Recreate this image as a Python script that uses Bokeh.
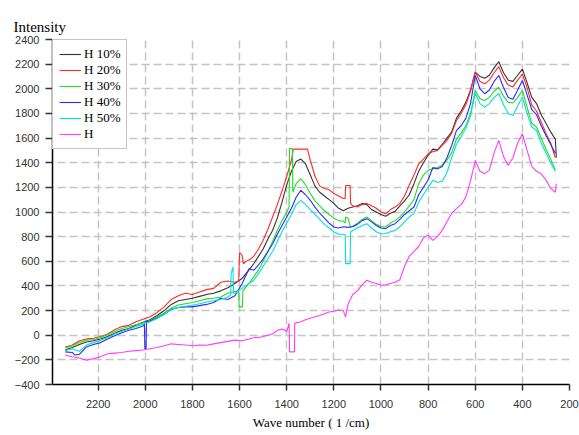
from bokeh.plotting import figure
from bokeh.models import Range1d, FixedTicker, Legend, LegendItem
from bokeh.embed import file_html
from bokeh.resources import INLINE

# common wave-number grid (1/cm)
wave = [2340, 2310, 2280, 2250, 2220, 2190, 2160, 2130, 2100, 2070, 2040, 2010, 1980, 1950,
        1920, 1890, 1860, 1830, 1800, 1770, 1740, 1710, 1680, 1650, 1620, 1590, 1560,
        1540, 1520, 1500, 1480, 1460, 1440, 1420, 1400, 1380, 1360, 1340, 1320, 1300, 1280,
        1260, 1240, 1220, 1200, 1180, 1160, 1140, 1120, 1100, 1080, 1060, 1040, 1020, 1000,
        980, 960, 940, 920, 900, 880, 860, 840, 820, 800, 780, 760, 740, 720, 700, 680,
        660, 640, 620, 600, 580, 560, 540, 520, 500, 480, 460, 440, 420, 400, 380, 360,
        340, 320, 300, 280, 260]

h10 = [-120, -100, -75, -55, -45, -30, -10, 15, 40, 55, 80, 105, 125, 160,
       200, 250, 280, 290, 300, 315, 330, 340, 360, 385, 420, 460, 530,
       580, 640, 700, 780, 850, 950, 1080, 1220, 1330, 1410, 1430, 1390, 1300, 1210,
       1160, 1130, 1100, 1070, 1030, 1010, 1030, 1040, 1050, 1070, 1060, 1020, 1000, 980,
       965, 990, 1005, 1050, 1090, 1140, 1230, 1330, 1400, 1460, 1510, 1505, 1550, 1600, 1650, 1760,
       1820, 1890, 1990, 2135, 2100, 2085, 2110, 2170, 2220, 2130, 2070, 2060, 2110, 2160, 2050, 1930,
       1880, 1790, 1720, 1650, 1590]
h10_ex_x = [256]
h10_ex_y = [1440]

h20 = [-95, -80, -45, -30, -25, -10, 10, 45, 70, 80, 110, 130, 150, 185,
       230, 290, 320, 340, 330, 350, 370, 380, 430, 440, 430, 650, 610,
       640, 700, 770, 860, 960, 1060, 1170, 1290, 1420, 1510, 1510, 1510, 1420, 1290,
       1210, 1190, 1180, 1150, 1130, 1110, 1215, 1050, 1040, 1060, 1070, 1050, 1030, 1000,
       985, 1020, 1040, 1070, 1130, 1220, 1300, 1390, 1430, 1470, 1490, 1500, 1540, 1580, 1640, 1740,
       1800, 1870, 1980, 2135, 2060, 2040, 2070, 2130, 2180, 2090, 2030, 2015, 2070, 2120, 2010, 1870,
       1820, 1730, 1640, 1560, 1440]
h20_ex_x = [1604, 1600, 1584, 1572, 1372, 1312, 1152, 1150, 1131, 1129]
h20_ex_y = [440, 670, 580, 600, 1510, 1510, 1110, 1215, 1215, 1070]

h30 = [-105, -85, -60, -40, -35, -20, 5, 30, 55, 70, 85, 100, 120, 150,
       180, 220, 245, 255, 265, 280, 295, 300, 310, 340, 355, 230, 420,
       473, 530, 600, 680, 760, 850, 930, 1000, 1514, 1230, 1270, 1220, 1150, 1090,
       1050, 1010, 980, 950, 930, 925, 950, 885, 910, 940, 960, 930, 900, 880,
       880, 910, 930, 960, 1000, 1050, 1100, 1230, 1300, 1338, 1350, 1360, 1380, 1420, 1480, 1590,
       1640, 1700, 1800, 1986, 1920, 1905, 1930, 1980, 2013, 1940, 1890, 1885, 1930, 1986, 1850, 1720,
       1690, 1600, 1510, 1430, 1340]
h30_ex_x = [1604, 1602, 1588, 1586, 1390, 1388, 1376, 1374, 1152, 1150, 1130]
h30_ex_y = [360, 230, 230, 360, 1040, 1514, 1514, 1160, 910, 960, 880]

h40 = [-135, -140, -155, -95, -75, -60, -30, -5, 20, 40, 55, 75, 115, 140,
       170, 210, 225, 230, 230, 240, 250, 265, 300, 290, 320, 415, 540,
       527, 570, 620, 680, 740, 820, 890, 960, 1030, 1120, 1176, 1140, 1095, 1040,
       990, 950, 910, 878, 870, 880, 875, 880, 900, 930, 946, 920, 890, 870,
       865, 890, 905, 940, 980, 1010, 1041, 1140, 1200, 1260, 1360, 1350, 1370, 1440, 1540, 1660,
       1700, 1760, 1880, 2108, 2000, 1960, 1990, 2060, 2108, 2010, 1930, 1915, 1990, 2067, 1950, 1830,
       1790, 1700, 1620, 1550, 1475]
h40_ex_x = [2300, 2004, 2002, 1997, 1995]
h40_ex_y = [-160, 90, -110, -110, 110]

h50 = [-125, -110, -130, -80, -60, -40, -20, 10, 30, 50, 70, 90, 110, 135,
       170, 210, 225, 235, 243, 255, 270, 280, 290, 310, 340, 380, 420,
       446, 500, 560, 620, 680, 760, 840, 910, 980, 1060, 1095, 1060, 1020, 980,
       940, 900, 870, 840, 820, 820, 581, 850, 870, 890, 905, 870, 840, 824,
       825, 840, 851, 880, 920, 960, 987, 1080, 1140, 1200, 1257, 1240, 1250, 1320, 1440, 1550,
       1610, 1680, 1780, 1962, 1880, 1851, 1880, 1930, 1962, 1870, 1800, 1784, 1860, 1932, 1800, 1690,
       1662, 1560, 1480, 1400, 1330]
h50_ex_x = [1638, 1636, 1628, 1626, 1152, 1150, 1131, 1129]
h50_ex_y = [325, 500, 554, 340, 815, 581, 581, 840]

h0 = [-162, -175, -185, -203, -190, -175, -150, -145, -140, -130, -125, -120, -110, -100,
      -85, -70, -75, -80, -85, -80, -81, -70, -60, -50, -40, -45, -30,
      -20, -18, -10, 0, 10, 40, 50, 30, -135, 100, 110, 125, 138, 150,
      160, 175, 189, 195, 205, 200, 250, 330, 360, 410, 446, 430, 420, 405,
      410, 420, 430, 450, 560, 640, 680, 720, 790, 811, 770, 800, 851, 920, 990, 1027,
      1060, 1121, 1250, 1419, 1330, 1311, 1340, 1480, 1581, 1450, 1378, 1440, 1560, 1635, 1500, 1370,
      1330, 1310, 1260, 1192, 1160]
h0_ex_x = [1390, 1388, 1367, 1366, 1150, 256]
h0_ex_y = [97, -135, -135, 97, 148, 1230]

names = ["H 10%", "H 20%", "H 30%", "H 40%", "H 50%", "H"]
colors = ["#333333", "#ff2a2a", "#22dd22", "#2a2aff", "#00e0e0", "#ff3cff"]
series = [(h10, h10_ex_x, h10_ex_y), (h20, h20_ex_x, h20_ex_y), (h30, h30_ex_x, h30_ex_y),
          (h40, h40_ex_x, h40_ex_y), (h50, h50_ex_x, h50_ex_y), (h0, h0_ex_x, h0_ex_y)]

x_ticks = [200, 400, 600, 800, 1000, 1200, 1400, 1600, 1800, 2000, 2200]
y_ticks = [-400, -200, 0, 200, 400, 600, 800, 1000, 1200, 1400, 1600, 1800, 2000, 2200, 2400]

p = figure(width=579, height=435, output_backend="svg", toolbar_location=None,
           x_range=Range1d(2394, 200), y_range=Range1d(-400, 2400),
           min_border_left=52, min_border_right=10, min_border_top=39, min_border_bottom=51)

p.title.text = "Intensity"
p.title.text_font = "Liberation Serif"
p.title.text_font_size = "15px"
p.title.text_font_style = "normal"
p.title.text_color = "#000000"
p.title.align = "left"
p.title.offset = -39
p.title.standoff = 10

p.outline_line_color = None
p.background_fill_color = "white"
p.border_fill_color = "white"

for g in (p.xgrid, p.ygrid):
    g.grid_line_color = "#c4c4c4"
    g.grid_line_dash = "8 4"
    g.grid_line_width = 1.5
p.xgrid.ticker = FixedTicker(ticks=x_ticks)
p.ygrid.ticker = FixedTicker(ticks=y_ticks)

p.xaxis.ticker = FixedTicker(ticks=x_ticks)
p.yaxis.ticker = FixedTicker(ticks=y_ticks)
for ax in (p.xaxis, p.yaxis):
    ax.axis_line_color = "#000000"
    ax.axis_line_width = 1.5
    ax.major_tick_line_color = "#333333"
    ax.major_tick_line_width = 1.5
    ax.major_tick_in = 0
    ax.minor_tick_line_color = None
    ax.major_label_text_font = "Liberation Sans"
    ax.major_label_text_font_size = "11px"
    ax.major_label_text_color = "#333333"
p.yaxis.major_tick_out = 7
p.yaxis.major_label_standoff = 6
p.xaxis.major_tick_out = 6
p.xaxis.major_label_standoff = 9
p.xaxis.axis_label = "Wave number ( 1 /cm)"
p.xaxis.axis_label_text_font = "Liberation Serif"
p.xaxis.axis_label_text_font_size = "13px"
p.xaxis.axis_label_text_font_style = "normal"
p.xaxis.axis_label_text_color = "#000000"
p.xaxis.axis_label_standoff = 4

items = []
for name, col, (vals, ex_x, ex_y) in zip(names, colors, series):
    pts = sorted(zip(wave + ex_x, vals + ex_y), key=lambda t: -t[0])
    xs = [a for a, b in pts]
    ys = [b for a, b in pts]
    r = p.line(xs, ys, line_color=col, line_width=1.1)
    items.append(LegendItem(label=name, renderers=[r]))

legend = Legend(items=items, location="top_left")
legend.margin = 0
legend.padding = 6
legend.spacing = 0
legend.glyph_width = 22
legend.glyph_height = 14
legend.label_height = 14
legend.label_standoff = 3
legend.label_text_font = "Liberation Serif"
legend.label_text_font_size = "13px"
legend.label_text_color = "#000000"
legend.border_line_color = "#8a8a8a"
legend.border_line_width = 1.5
legend.background_fill_color = "white"
legend.background_fill_alpha = 1.0
p.add_layout(legend)

open("out.html", "w").write(file_html(p, INLINE))
